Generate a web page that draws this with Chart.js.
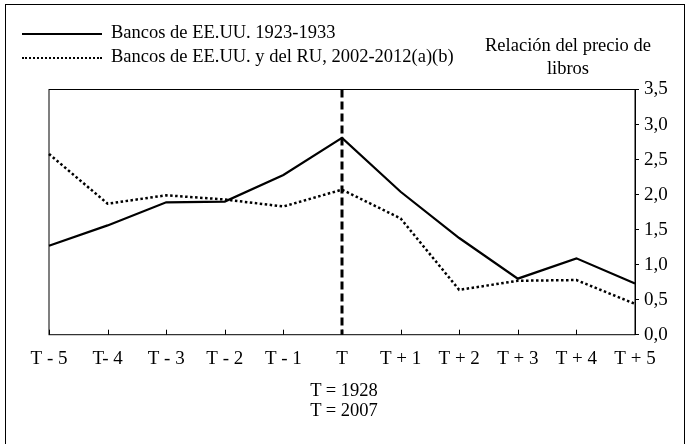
<!DOCTYPE html>
<html>
<head>
<meta charset="utf-8">
<script src="https://cdn.jsdelivr.net/npm/chart.js@4"></script>
<style>
  body { margin: 0; background: #fff; font-family: "Liberation Serif", serif; color: #000; }
  #wrap { position: relative; width: 688px; height: 444px; overflow: hidden; }
  #frame { position: absolute; left: 5px; top: 4px; width: 678px; height: 460px; border: 1px solid #000; }
  canvas { position: absolute; left: 0; top: 0; }
  .leg { position: absolute; left: 22px; font-size: 18.5px; white-space: nowrap; }
  .leg span.s { display: inline-block; width: 80px; vertical-align: middle; margin-right: 9px; }
  .txt { position: absolute; font-size: 18.5px; text-align: center; white-space: nowrap; }
</style>
</head>
<body>
<div id="wrap">
  <div id="frame"></div>
  <canvas id="chart" width="688" height="444"></canvas>
  <div class="leg" style="top:22px"><span class="s" style="border-top:2px solid #000"></span>Bancos de EE.UU. 1923-1933</div>
  <div class="leg" style="top:46px"><span class="s" style="border-top:2px dotted #000"></span>Bancos de EE.UU. y del RU, 2002-2012(a)(b)</div>
  <div class="txt" style="left:476px; top:34px; width:184px; line-height:23px">Relación del precio de<br>libros</div>
  <div class="txt" style="left:264px; top:380px; width:160px; line-height:20px">T = 1928<br>T = 2007</div>
</div>
<script>
// categorias e valores
const periodos = ['T - 5', 'T- 4', 'T - 3', 'T - 2', 'T - 1', 'T', 'T + 1', 'T + 2', 'T + 3', 'T + 4', 'T + 5'];
const bancosEUA1923 = [1.27, 1.56, 1.89, 1.90, 2.28, 2.81, 2.04, 1.38, 0.80, 1.09, 0.73];
const bancosEUARU2002 = [2.58, 1.87, 1.99, 1.93, 1.83, 2.07, 1.66, 0.64, 0.77, 0.78, 0.44];
const nomesSeries = ['Bancos de EE.UU. 1923-1933', 'Bancos de EE.UU. y del RU, 2002-2012(a)(b)'];
const marcoT = 'T';

// caixa do gráfico, marcas do eixo x e linha tracejada em T
const boxPlugin = {
    id: 'boxPlugin',
    afterDatasetsDraw(chart) {
        const { ctx, chartArea, scales } = chart;
        ctx.save();
        ctx.strokeStyle = '#000';
        ctx.lineWidth = 1;
        ctx.strokeRect(chartArea.left, chartArea.top, chartArea.right - chartArea.left, chartArea.bottom - chartArea.top);
        scales.x.ticks.forEach((t, i) => {
            const x = Math.round(scales.x.getPixelForTick(i)) + 0.5;
            ctx.beginPath();
            ctx.moveTo(x, chartArea.bottom);
            ctx.lineTo(x, chartArea.bottom - 5);
            ctx.stroke();
        });
        const xt = scales.x.getPixelForValue(periodos.indexOf(marcoT));
        ctx.lineWidth = 3;
        ctx.setLineDash([8, 4]);
        ctx.beginPath();
        ctx.moveTo(xt, chartArea.top);
        ctx.lineTo(xt, chartArea.bottom);
        ctx.stroke();
        ctx.restore();
    }
};

new Chart(document.getElementById('chart'), {
    type: 'line',
    data: {
        labels: periodos,
        datasets: [{
            label: nomesSeries[0],
            data: bancosEUA1923,
            borderColor: '#000',
            borderWidth: 2.2,
            pointRadius: 0,
            tension: 0
        }, {
            label: nomesSeries[1],
            data: bancosEUARU2002,
            borderColor: '#000',
            borderWidth: 2.5,
            borderDash: [2.5, 2.5],
            pointRadius: 0,
            tension: 0
        }]
    },
    options: {
        responsive: false,
        animation: false,
        layout: { padding: { left: 49, top: 89.5, right: 0, bottom: 69.5 } },
        plugins: {
            legend: { display: false },
            tooltip: { enabled: false }
        },
        scales: {
            x: {
                offset: false,
                grid: { display: false },
                border: { display: false },
                ticks: {
                    color: '#000',
                    font: { family: 'Liberation Serif', size: 19 },
                    maxRotation: 0,
                    autoSkip: false,
                    padding: 4.5
                }
            },
            y: {
                position: 'right',
                min: 0,
                max: 3.5,
                grid: { drawOnChartArea: false, tickLength: 4, color: '#000' },
                border: { color: '#000' },
                ticks: {
                    stepSize: 0.5,
                    color: '#000',
                    padding: 5,
                    font: { family: 'Liberation Serif', size: 19 },
                    callback: v => v.toFixed(1).replace('.', ',')
                },
                afterFit(scale) { scale.width = 53; }
            }
        }
    },
    plugins: [boxPlugin]
});
</script>
</body>
</html>
